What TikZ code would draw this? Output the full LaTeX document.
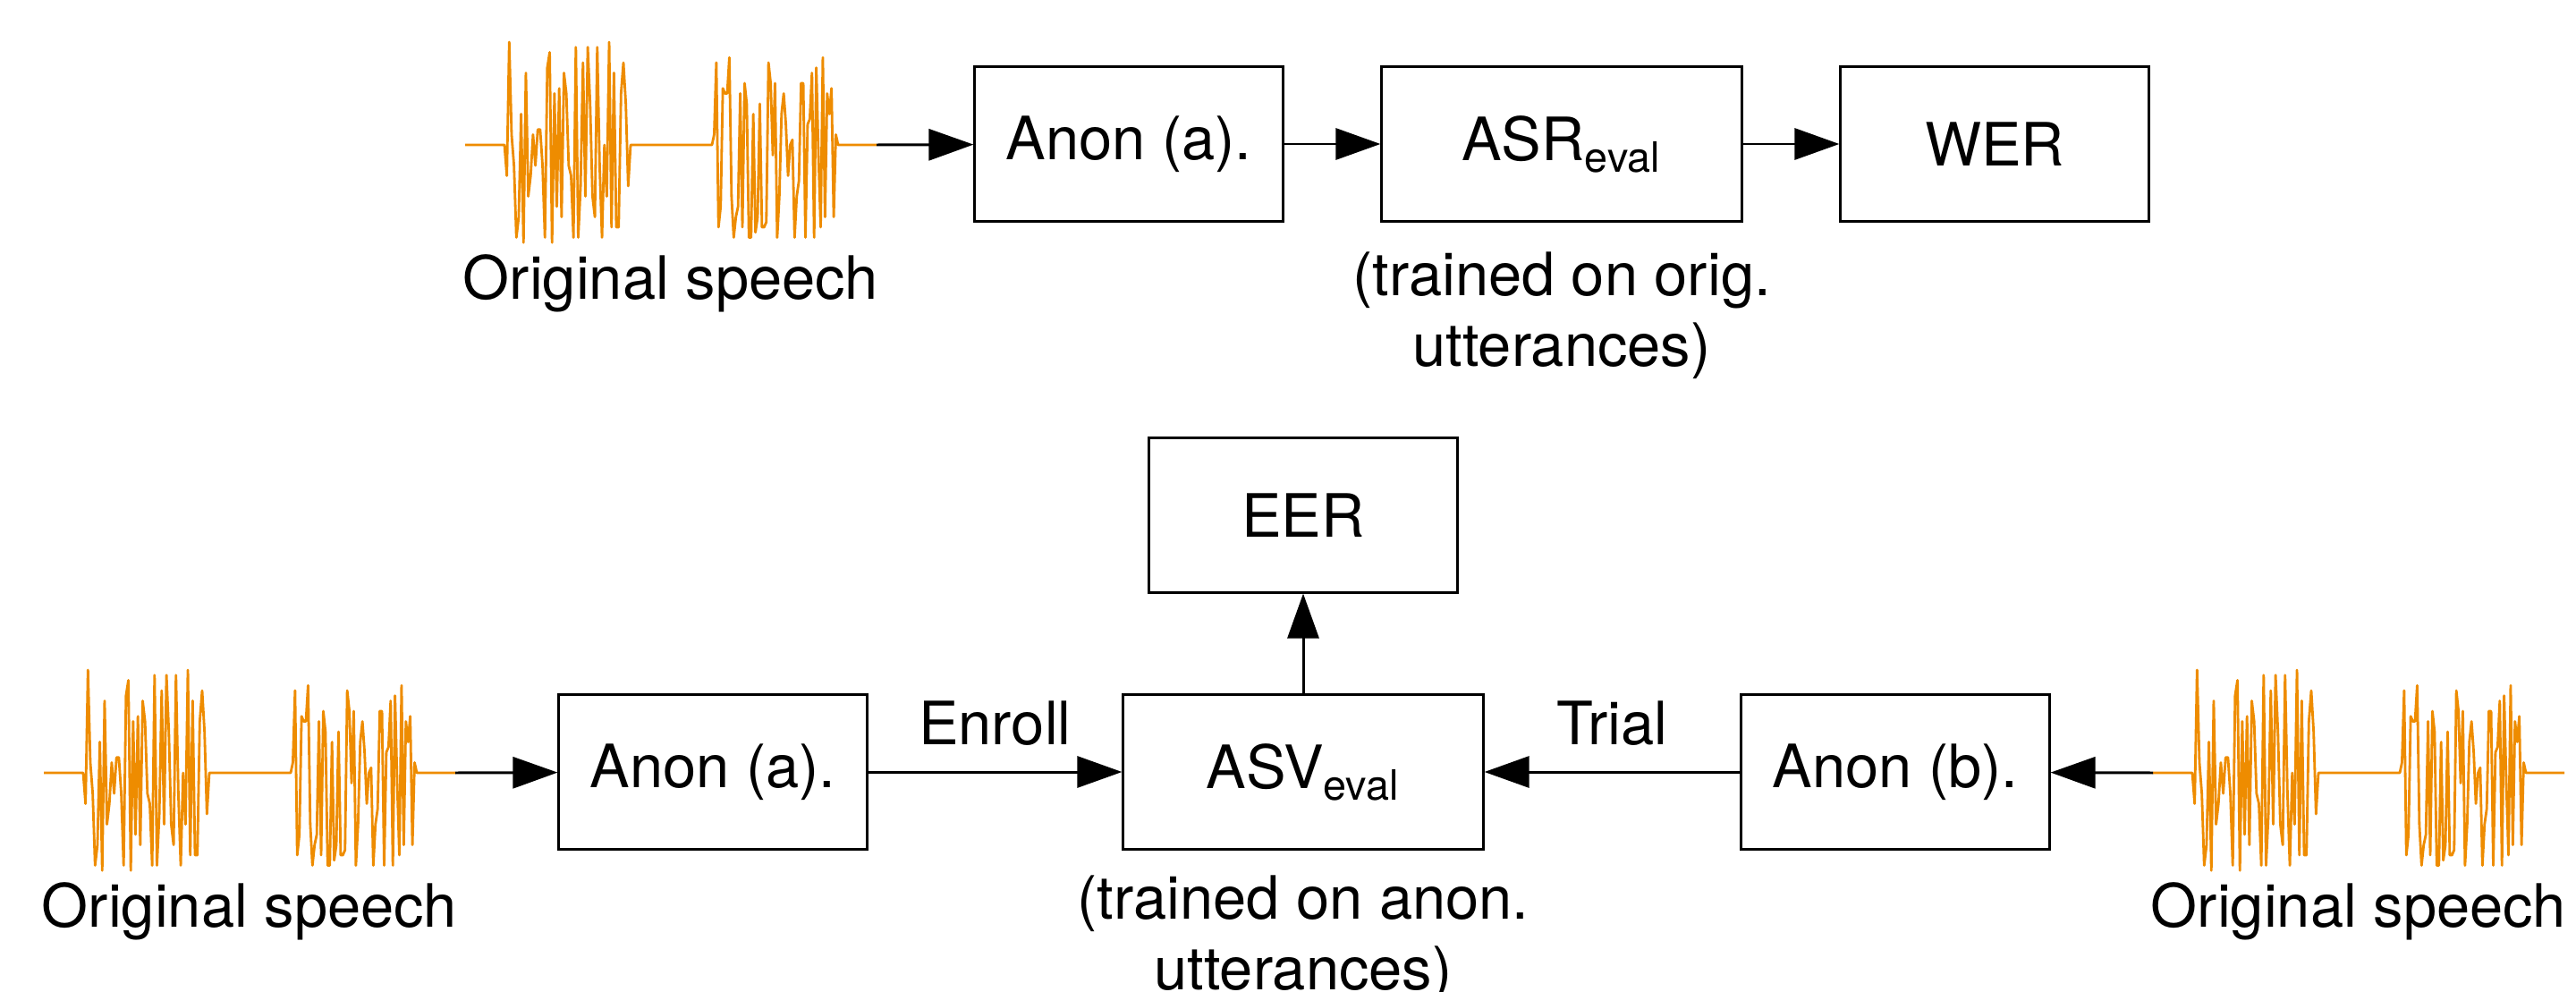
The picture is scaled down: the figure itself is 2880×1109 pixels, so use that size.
\documentclass[tikz,border=0pt]{standalone}
\usepackage{fontspec}
\setmainfont{TeX Gyre Heros}
\usetikzlibrary{arrows.meta}
\definecolor{waveorange}{RGB}{238,140,0}

\tikzset{
  block/.style={draw, line width=0.85pt, minimum width=3.44cm, minimum height=1.72cm, inner sep=0pt},
  wideblock/.style={block, minimum width=4.02cm},
  flow/.style={line width=0.85pt, -{Triangle[length=5mm,width=3.5mm]}},
  note/.style={align=center, inner sep=0pt},
  % speech signal: two bursts with silence around them
  speech/.pic={
    \draw[waveorange, line width=0.8pt, line join=round]
      (0,0) -- (44,0)
      \foreach \v [count=\i] in {-0.3,1.0,0.1,-0.2,-0.9,-0.7,0.3,-0.95,0.7,-0.5,
          -0.3,0.1,-0.2,0.15,0.15,-0.2,-0.9,0.75,0.9,-0.95,
          0.5,-0.6,0.55,-0.7,0.7,0.5,-0.2,-0.3,-0.9,0.95,
          -0.9,-0.4,0.8,-0.5,0.95,0.4,-0.5,-0.7,0.95,-0.2,
          -0.9,0,-0.5,1.0,-0.8,0.7,-0.8,-0.8,0.5,0.8,0.4,-0.4}
        { -- ({44+\i*2.66},{-115*\v}) }
      -- (185,0) -- (276,0)
      \foreach \v [count=\i] in {0.1,0.8,-0.8,-0.6,0.55,0.5,0.5,0.85,-0.5,-0.9,
          -0.7,-0.6,0.5,-0.8,0.6,0.4,-0.9,-0.9,0.3,-0.85,
          -0.7,0.4,-0.8,-0.8,-0.75,0.8,0.6,-0.1,0.6,-0.9,
          -0.5,0.3,0.5,0.2,-0.3,0,0.05,-0.9,-0.5,-0.35,
          0.6,0.6,-0.9,0.2,0.25,0.7,-0.9,0.75,-0.1,-0.8,
          0.85,-0.7,0.5,0.3,0.55,-0.7,0.1}
        { -- ({276+\i*2.43},{-115*\v}) }
      -- (417,0) -- (460,0);
    \coordinate (-in) at (0,0);
    \coordinate (-out) at (460,0);
    \node[anchor=base, inner sep=0pt] (-label) at (230,172) {Original speech};
  }
}

\begin{document}
\begin{tikzpicture}[x=0.01cm, y=-0.01cm, font=\fontsize{19}{22.5}\selectfont]
\useasboundingbox (0,0) rectangle (2880,1109);
% ASR chain
\pic (w1) at (520,162) {speech};
\node[block] (anon1) at (1262,161) {Anon (a).};
\node[wideblock] (asr) at (1746,161) {ASR\textsubscript{eval}};
\node[block] (wer) at (2230,161) {WER};
\node[note, anchor=north] (asrnote) at (1746,281) {(trained on orig.\\utterances)};
\draw[flow] (w1-out) -- (anon1);
\draw[flow] (anon1) -- (asr);
\draw[flow] (asr) -- (wer);
% ASV chain
\pic (w2) at (49,864) {speech};
\pic (w3) at (2407,864) {speech};
\node[block] (anon2) at (797,863) {Anon (a).};
\node[wideblock] (asv) at (1457,863) {ASV\textsubscript{eval}};
\node[block] (anonb) at (2119,863) {Anon (b).};
\node[block] (eer) at (1457,576) {EER};
\node[note, anchor=north] (asvnote) at (1457,978) {(trained on anon.\\utterances)};
\draw[flow] (w2-out) -- (anon2);
\draw[flow] (anon2) -- node[above=8pt, inner sep=0pt] (enroll) {Enroll} (asv);
\draw[flow] (w3-in) -- (anonb);
\draw[flow] (anonb) -- node[above=8pt, inner sep=0pt] (trial) {Trial} (asv);
\draw[flow] (asv) -- (eer);
\end{tikzpicture}
\end{document}
